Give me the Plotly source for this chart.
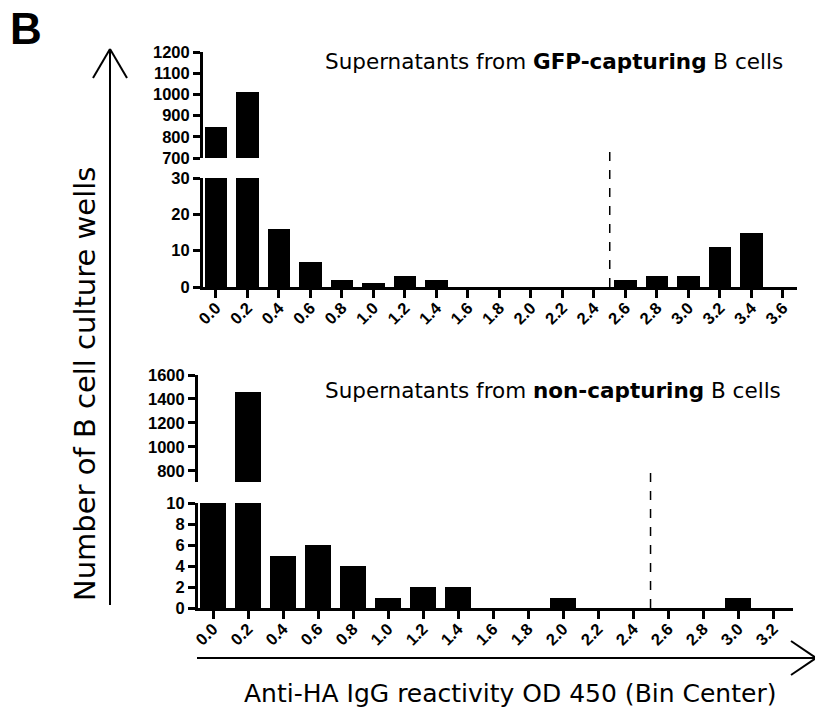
import plotly.graph_objects as go

W, H = 815, 711

# Bin centers (OD 450) and well counts per bin
bins_gfp = [0.0, 0.2, 0.4, 0.6, 0.8, 1.0, 1.2, 1.4, 1.6, 1.8, 2.0, 2.2, 2.4, 2.6, 2.8, 3.0, 3.2, 3.4, 3.6]
counts_gfp = [845, 1010, 16, 7, 2, 1, 3, 2, 0, 0, 0, 0, 0, 2, 3, 3, 11, 15, 0]
labels_gfp = ["0.0", "0.2", "0.4", "0.6", "0.8", "1.0", "1.2", "1.4", "1.6", "1.8",
              "2.0", "2.2", "2.4", "2.6", "2.8", "3.0", "3.2", "3.4", "3.6"]

bins_non = [0.0, 0.2, 0.4, 0.6, 0.8, 1.0, 1.2, 1.4, 1.6, 1.8, 2.0, 2.2, 2.4, 2.6, 2.8, 3.0, 3.2]
counts_non = [400, 1460, 5, 6, 4, 1, 2, 2, 0, 0, 1, 0, 0, 0, 0, 1, 0]
labels_non = ["0.0", "0.2", "0.4", "0.6", "0.8", "1.0", "1.2", "1.4", "1.6", "1.8",
              "2.0", "2.2", "2.4", "2.6", "2.8", "3.0", "3.2"]

# Broken y-axis tick sets
ticks_gfp_low = [0, 10, 20, 30]
ticks_gfp_high = [700, 800, 900, 1000, 1100, 1200]
ticks_non_low = [0, 2, 4, 6, 8, 10]
ticks_non_high = [800, 1000, 1200, 1400, 1600]

cutoff = 2.5


def px(x):
    return x / W


def py(y):
    return 1 - y / H


fig = go.Figure()

# Each histogram is drawn twice: once on the low segment, once on the high segment
for xa, ya, xs, ys, w in [
    ("x", "y", bins_gfp, counts_gfp, 0.145),
    ("x", "y2", bins_gfp, counts_gfp, 0.145),
    ("x2", "y3", bins_non, counts_non, 0.148),
    ("x2", "y4", bins_non, counts_non, 0.148),
]:
    fig.add_trace(go.Bar(x=xs, y=ys, width=w, xaxis=xa, yaxis=ya,
                         marker=dict(color="black", line=dict(width=0)),
                         showlegend=False, hoverinfo="x+y"))

tickfont = dict(family="Liberation Sans, Arial, sans-serif", size=16.5, color="black", weight="bold")
common_y = dict(showline=True, linewidth=3, linecolor="black", ticks="outside", ticklen=7,
                tickwidth=3, tickcolor="black", showgrid=False, zeroline=False, tickfont=tickfont,
                automargin=False)
common_x = dict(showline=True, linewidth=3, linecolor="black", ticks="outside", ticklen=8,
                tickwidth=3, tickcolor="black", showgrid=False, zeroline=False, tickfont=tickfont,
                tickangle=-45, automargin=False, ticklabelstandoff=-6)

fig.update_layout(
    template="none",
    width=W, height=H,
    margin=dict(l=0, r=0, t=0, b=0, pad=0),
    paper_bgcolor="white", plot_bgcolor="rgba(0,0,0,0)",
    bargap=0,
    xaxis=dict(domain=[px(203), px(797)], range=[-0.0825, 3.689], anchor="y",
               tickvals=bins_gfp, ticktext=labels_gfp, **common_x),
    yaxis=dict(domain=[py(287), py(178)], range=[0, 30], anchor="x",
               tickvals=ticks_gfp_low, **common_y),
    yaxis2=dict(domain=[py(158), py(52)], range=[700, 1200], anchor="x",
                tickvals=ticks_gfp_high, **common_y),
    xaxis2=dict(domain=[px(198), px(793)], range=[-0.0857, 3.314], anchor="y3",
                tickvals=bins_non, ticktext=labels_non, **common_x),
    yaxis3=dict(domain=[py(608), py(503)], range=[0, 10], anchor="x2",
                tickvals=ticks_non_low, **common_y),
    yaxis4=dict(domain=[py(482), py(375)], range=[708, 1600], anchor="x2",
                tickvals=ticks_non_high, **common_y),
)

# Cutoff lines
fig.add_shape(type="line", xref="x", yref="paper", x0=cutoff, x1=cutoff, y0=py(287), y1=py(145),
              line=dict(color="black", width=1.5, dash="dash"))
fig.add_shape(type="line", xref="x2", yref="paper", x0=cutoff, x1=cutoff, y0=py(608), y1=py(468),
              line=dict(color="black", width=1.5, dash="dash"))

# Axis arrows
arrow = dict(color="black", width=2)
for (x0, y0, x1, y1) in [
    (110, 605, 110, 49), (93, 78, 110, 49), (127, 78, 110, 49),
    (197, 658, 816, 658), (791, 641, 816, 658), (791, 675, 816, 658),
]:
    fig.add_shape(type="line", xref="paper", yref="paper",
                  x0=px(x0), y0=py(y0), x1=px(x1), y1=py(y1), line=arrow)

textfont = dict(family="DejaVu Sans", size=21.5, color="black")
fig.add_annotation(text="Supernatants from <b>GFP-capturing</b> B cells", xref="paper", yref="paper",
                   x=px(323), y=py(62), xanchor="left", yanchor="middle", showarrow=False, font=textfont)
fig.add_annotation(text="Supernatants from <b>non-capturing</b> B cells", xref="paper", yref="paper",
                   x=px(323), y=py(390), xanchor="left", yanchor="middle", showarrow=False, font=textfont)
fig.add_annotation(text="Number of B cell culture wells", xref="paper", yref="paper",
                   x=px(85), y=py(384), textangle=-90, xanchor="center", yanchor="middle",
                   showarrow=False, font=dict(family="DejaVu Sans", size=29, color="black"))
fig.add_annotation(text="Anti-HA IgG reactivity OD 450 (Bin Center)", xref="paper", yref="paper",
                   x=px(510), y=py(693), xanchor="center", yanchor="middle",
                   showarrow=False, font=dict(family="DejaVu Sans", size=25, color="black"))
fig.add_annotation(text="<b>B</b>", xref="paper", yref="paper", x=px(8), y=py(29),
                   xanchor="left", yanchor="middle", showarrow=False,
                   font=dict(family="Liberation Sans, Arial, sans-serif", size=44, color="black"))

fig.write_html("out.html", post_script="document.body.style.margin='0';document.body.style.overflow='hidden';")
